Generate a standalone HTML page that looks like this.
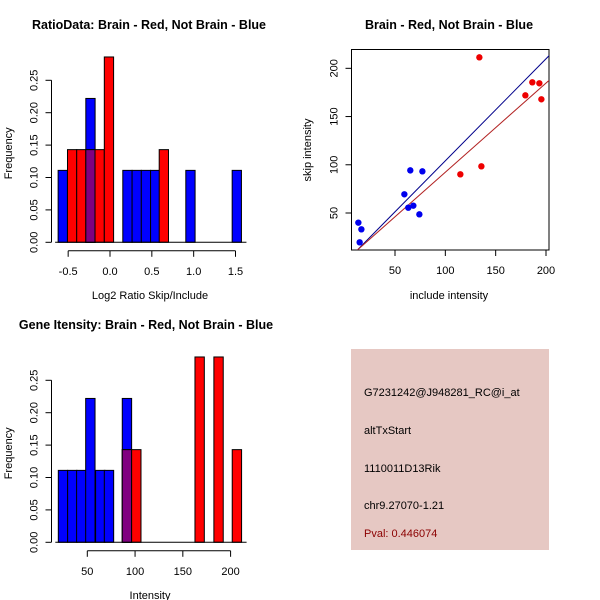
<!DOCTYPE html>
<html><head><meta charset="utf-8"><style>
body{margin:0;background:#fff}
svg{display:block;font-family:"Liberation Sans",sans-serif}
</style></head><body>
<svg id="c" width="600" height="600" viewBox="0 0 600 600">
<rect width="600" height="600" fill="#fff"/>
<text x="149" y="29" font-size="12.5" font-weight="bold" text-anchor="middle">RatioData: Brain - Red, Not Brain - Blue</text>
<text x="449" y="29" font-size="12.5" font-weight="bold" text-anchor="middle">Brain - Red, Not Brain - Blue</text>
<text x="146" y="329" font-size="12.5" font-weight="bold" text-anchor="middle">Gene Itensity: Brain - Red, Not Brain - Blue</text>
<g id="g1"></g>
<g id="g2"></g>
<g id="g3"></g>
<g>
<rect x="351" y="349" width="198" height="201" fill="#e6c8c3"/>
<text x="364" y="396" font-size="11">G7231242@J948281_RC@i_at</text>
<text x="364" y="434" font-size="11">altTxStart</text>
<text x="364" y="472" font-size="11">1110011D13Rik</text>
<text x="364" y="509" font-size="11">chr9.27070-1.21</text>
<text x="364" y="537" font-size="11" fill="#8b0000">Pval: 0.446074</text>
</g>
</svg>
<script>
// ---- Ratio histogram data ----
const ratioBlueLeft=[-0.62,-0.289,0.153,0.264,0.374,0.485,0.906,1.460];
const ratioBlueFreq=[0.111,0.222,0.111,0.111,0.111,0.111,0.111,0.111];
const ratioRedLeft=[-0.508,-0.398,-0.289,-0.179,-0.068,0.588];
const ratioRedFreq=[0.143,0.143,0.143,0.143,0.286,0.143];
const ratioBinWidth=0.111;
const ratioXTicks=[-0.5,0.0,0.5,1.0,1.5];
const ratioXTickLabels=["-0.5","0.0","0.5","1.0","1.5"];
const freqTicks=[0,0.05,0.10,0.15,0.20,0.25];
const freqTickLabels=["0.00","0.05","0.10","0.15","0.20","0.25"];
// ---- Intensity histogram data ----
const intBlueLeft=[19.65,29.4,38.8,48.3,58.7,67.8,86.6];
const intBlueFreq=[0.111,0.111,0.111,0.222,0.111,0.111,0.222];
const intRedLeft=[86.6,96.4,162.7,182.5,201.7];
const intRedFreq=[0.143,0.143,0.286,0.286,0.143];
const intBinWidth=9.8;
const intXTicks=[50,100,150,200];
const intXTickLabels=["50","100","150","200"];
// ---- Scatter data ----
const blueInclude=[13.6,16.6,14.9,59.3,65.2,77.2,63.2,68.2,74.2];
const blueSkip=[40.0,33.1,19.6,69.4,94.2,93.2,55.5,57.6,48.6];
const redInclude=[133.8,135.8,114.9,179.5,186.4,193.4,195.4];
const redSkip=[211.4,98.4,90.1,172.0,185.5,184.5,167.9];
const fitIntercept=[-1.69,-0.1];
const fitSlope=[1.058,0.924];
const scXTicks=[50,100,150,200];
const scYTicks=[50,100,150,200];

const NS="http://www.w3.org/2000/svg";
function mk(p,t,a){const e=document.createElementNS(NS,t);for(const k in a)e.setAttribute(k,a[k]);p.appendChild(e);return e;}

function hist(g,X,Y0,Y,bl,bf,rl,rf,bw,ticks,labels,tickFrom,tickTo,xtitle,xAxisX0,xAxisX1){
  const yb=Y(0);
  function bar(l,f,col,nm){const r=mk(g,'rect',{x:X(l),y:Y(f),width:X(l+bw)-X(l),height:yb-Y(f),fill:col,stroke:'#000','stroke-width':1});
    
    }
  bl.forEach((l,i)=>bar(l,bf[i],'#0000ff','blue-bar'));
  rl.forEach((l,i)=>{
    bar(l,rf[i],'#ff0000','red-bar');
    bl.forEach((b,j)=>{if(Math.abs(b-l)<bw/2){bar(l,Math.min(rf[i],bf[j]),'#800080','overlap-bar');}});
  });
  mk(g,'line',{x1:X(xAxisX0)-3,x2:X(xAxisX1)+5,y1:yb,y2:yb,stroke:'#000'});
  const ax=51.5;
  mk(g,'line',{x1:ax,x2:ax,y1:Y(0),y2:Y(0.25),stroke:'#000'});
  freqTicks.forEach((t,i)=>{mk(g,'line',{x1:ax-6,x2:ax,y1:Y(t),y2:Y(t),stroke:'#000'});
    const tx=mk(g,'text',{x:ax-14,y:Y(t),'font-size':11,'text-anchor':'middle',transform:`rotate(-90 ${ax-14} ${Y(t)})`});
    tx.textContent=freqTickLabels[i];
    
    });
  const ay=Y0+8.5;
  mk(g,'line',{x1:X(tickFrom),x2:X(tickTo),y1:ay,y2:ay,stroke:'#000'});
  ticks.forEach((t,i)=>{mk(g,'line',{x1:X(t),x2:X(t),y1:ay,y2:ay+6,stroke:'#000'});
    const tx=mk(g,'text',{x:X(t),y:ay+24,'font-size':11,'text-anchor':'middle'});tx.textContent=labels[i];
    
    });
  const xt=mk(g,'text',{x:150,y:ay+48,'font-size':11,'text-anchor':'middle'});xt.textContent=xtitle;
  
  
  const yt=mk(g,'text',{x:12,y:(Y(0)+Y(0.25))/2-8,'font-size':11,'text-anchor':'middle',transform:`rotate(-90 12 ${(Y(0)+Y(0.25))/2-8})`});yt.textContent='Frequency';
  
  
}
{const X=v=>110+(v)*83.67, Y=v=>242.3-v*648;
 hist(document.getElementById('g1'),X,242.3,Y,ratioBlueLeft,ratioBlueFreq,ratioRedLeft,ratioRedFreq,ratioBinWidth,ratioXTicks,ratioXTickLabels,-0.5,1.5,'Log2 Ratio Skip/Include',-0.62,1.571);}
{const X=v=>87.3+(v-50)*0.9553, Y=v=>542.3-v*648;
 hist(document.getElementById('g2'),X,542.3,Y,intBlueLeft,intBlueFreq,intRedLeft,intRedFreq,intBinWidth,intXTicks,intXTickLabels,50,200,'Intensity',19.65,211.5);}
{const g=document.getElementById('g3');
 const X=v=>395+(v-50)*1.0067, Y=v=>213-(v-50)*0.9645;
 const L=351.5,R=549,T=49.5,B=250;
 mk(g,'rect',{x:L,y:T,width:R-L,height:B-T,fill:'none',stroke:'#000'});
 const cp=mk(g,'clipPath',{id:'cp'});mk(cp,'rect',{x:L,y:T,width:R-L,height:B-T});
 const cols=['#00008b','#b22222'];
 fitIntercept.forEach((a,i)=>{const x0=11.9,x1=203.5;
   const l=mk(g,'line',{x1:X(x0),y1:Y(a+fitSlope[i]*x0),x2:X(x1),y2:Y(a+fitSlope[i]*x1),stroke:cols[i],'stroke-width':1,'clip-path':'url(#cp)'});
   
   });
 blueInclude.forEach((v,i)=>{const c=mk(g,'circle',{cx:X(v),cy:Y(blueSkip[i]),r:3.2,fill:'#0000ee'});
   
   });
 redInclude.forEach((v,i)=>{const c=mk(g,'circle',{cx:X(v),cy:Y(redSkip[i]),r:3.2,fill:'#ee0000'});
   
   });
 scXTicks.forEach(t=>{mk(g,'line',{x1:X(t),x2:X(t),y1:B,y2:B+6,stroke:'#000'});
   const tx=mk(g,'text',{x:X(t),y:B+24,'font-size':11,'text-anchor':'middle'});tx.textContent=t;
   
   });
 scYTicks.forEach(t=>{mk(g,'line',{x1:L-6,x2:L,y1:Y(t),y2:Y(t),stroke:'#000'});
   const tx=mk(g,'text',{x:L-14,y:Y(t),'font-size':11,'text-anchor':'middle',transform:`rotate(-90 ${L-14} ${Y(t)})`});tx.textContent=t;
   
   });
 const xt=mk(g,'text',{x:449,y:299,'font-size':11,'text-anchor':'middle'});xt.textContent='include intensity';
 
 
 const yt=mk(g,'text',{x:311,y:150,'font-size':11,'text-anchor':'middle',transform:'rotate(-90 311 150)'});yt.textContent='skip intensity';
 
 }
</script>
</body></html>
